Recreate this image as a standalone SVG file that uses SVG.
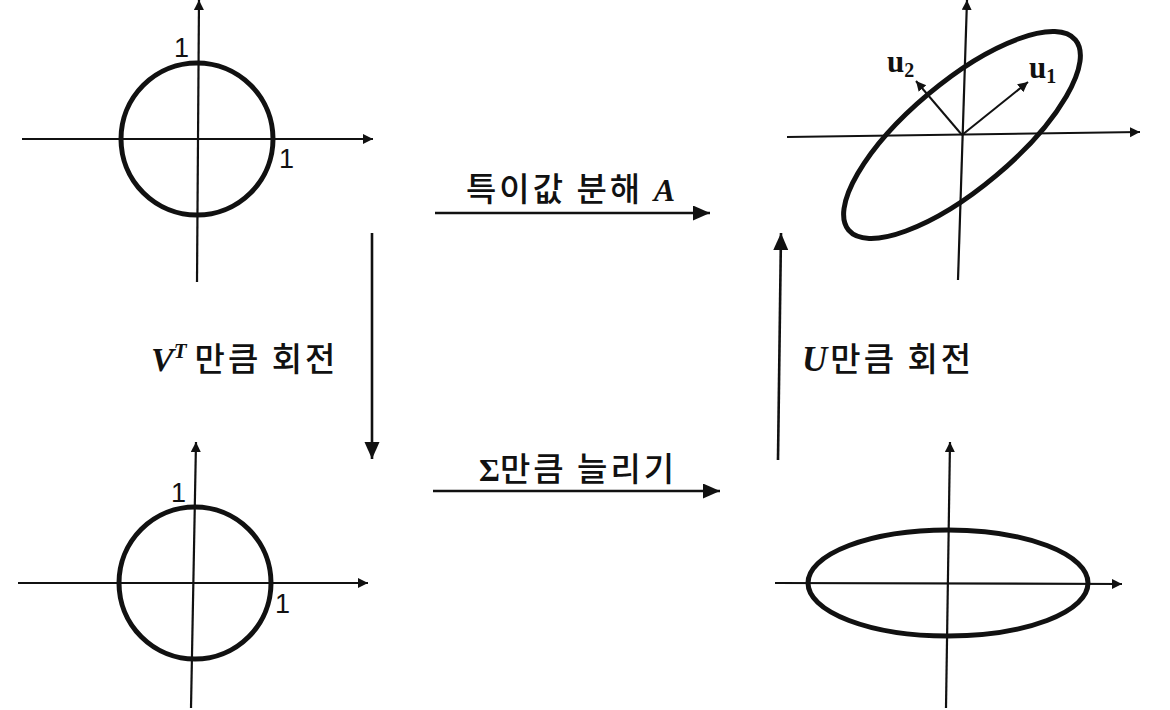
<svg xmlns="http://www.w3.org/2000/svg" width="1170" height="710" viewBox="0 0 1170 710">
<style>
.ax{stroke:#111;stroke-width:2.2;fill:none;marker-end:url(#ah)}
.vec{stroke:#111;stroke-width:2;fill:none;marker-end:url(#vh)}
.big{stroke:#111;stroke-width:2.6;fill:none;marker-end:url(#bh)}
.sh{stroke:#111;stroke-width:5;fill:none}
.num{font-family:"Liberation Sans","Noto Sans",sans-serif;font-size:27px;fill:#111}
.kr{font-family:"Noto Sans CJK KR","Noto Sans",sans-serif;font-size:33px;font-weight:500;letter-spacing:3px;fill:#111}
.m{font-family:"Liberation Serif","DejaVu Serif",serif;font-weight:bold;font-style:italic;fill:#111;letter-spacing:0}
.mu{font-family:"Liberation Serif","DejaVu Serif",serif;font-weight:bold;fill:#111;letter-spacing:0}
</style>
<defs>
<marker id="ah" markerUnits="userSpaceOnUse" markerWidth="12" markerHeight="12" refX="10" refY="5" orient="auto"><path d="M0,0 L10,5 L0,10 Z" fill="#111"/></marker>
<marker id="vh" markerUnits="userSpaceOnUse" markerWidth="12" markerHeight="12" refX="10" refY="5" orient="auto"><path d="M0,0 L10,5 L0,10 Z" fill="#111"/></marker>
<marker id="bh" markerUnits="userSpaceOnUse" markerWidth="18" markerHeight="16" refX="17" refY="7.5" orient="auto"><path d="M0,0 L17,7.5 L0,15 Z" fill="#111"/></marker>
</defs>

<g id="plot-top-left">
<line class="ax" x1="22" y1="139" x2="373" y2="139"/>
<line class="ax" x1="197" y1="282" x2="199" y2="0"/>
<circle class="sh" cx="197" cy="139" r="76"/>
<text class="num" x="174" y="57">1</text>
<text class="num" x="279" y="168">1</text>
</g>

<g id="plot-bottom-left">
<line class="ax" x1="18" y1="583" x2="368" y2="583"/>
<line class="ax" x1="191" y1="708" x2="196" y2="442"/>
<circle class="sh" cx="195" cy="583" r="76"/>
<text class="num" x="171" y="502">1</text>
<text class="num" x="275" y="613">1</text>
</g>

<g id="plot-top-right">
<line class="ax" x1="787" y1="137" x2="1140" y2="132"/>
<line class="ax" x1="958" y1="280" x2="967" y2="0"/>
<ellipse class="sh" cx="962" cy="135" rx="148" ry="53" transform="rotate(-40 962 135)"/>
<line class="vec" x1="962" y1="135" x2="1028" y2="82"/>
<line class="vec" x1="962" y1="135" x2="916" y2="81"/>
<text class="mu" x="887" y="72" font-size="31">u<tspan font-size="20" dy="5">2</tspan></text>
<text class="mu" x="1029" y="78" font-size="31">u<tspan font-size="20" dy="5">1</tspan></text>
</g>

<g id="plot-bottom-right">
<line class="ax" x1="775" y1="583" x2="1122" y2="584"/>
<line class="ax" x1="946" y1="708" x2="950" y2="442"/>
<ellipse class="sh" cx="948" cy="583" rx="140" ry="53"/>
</g>

<g id="connectors">
<line class="big" x1="435" y1="213" x2="710" y2="213"/>
<line class="big" x1="433" y1="491" x2="720" y2="491"/>
<line class="big" x1="372" y1="233" x2="372" y2="459"/>
<line class="big" x1="778" y1="460" x2="781" y2="233"/>
</g>

<g id="labels">
<text class="kr" x="466" y="201">특이값 분해 <tspan class="m" font-size="32">A</tspan></text>
<text x="479" y="481"><tspan class="mu" font-size="32">Σ</tspan><tspan class="kr">만큼 늘리기</tspan></text>
<text x="151" y="371"><tspan class="m" font-size="34">V</tspan><tspan class="m" font-size="21" dy="-13">T</tspan><tspan class="kr" dy="13" dx="8">만큼 회전</tspan></text>
<text x="802" y="371"><tspan class="m" font-size="35">U</tspan><tspan class="kr" dx="3">만큼 회전</tspan></text>
</g>
</svg>
